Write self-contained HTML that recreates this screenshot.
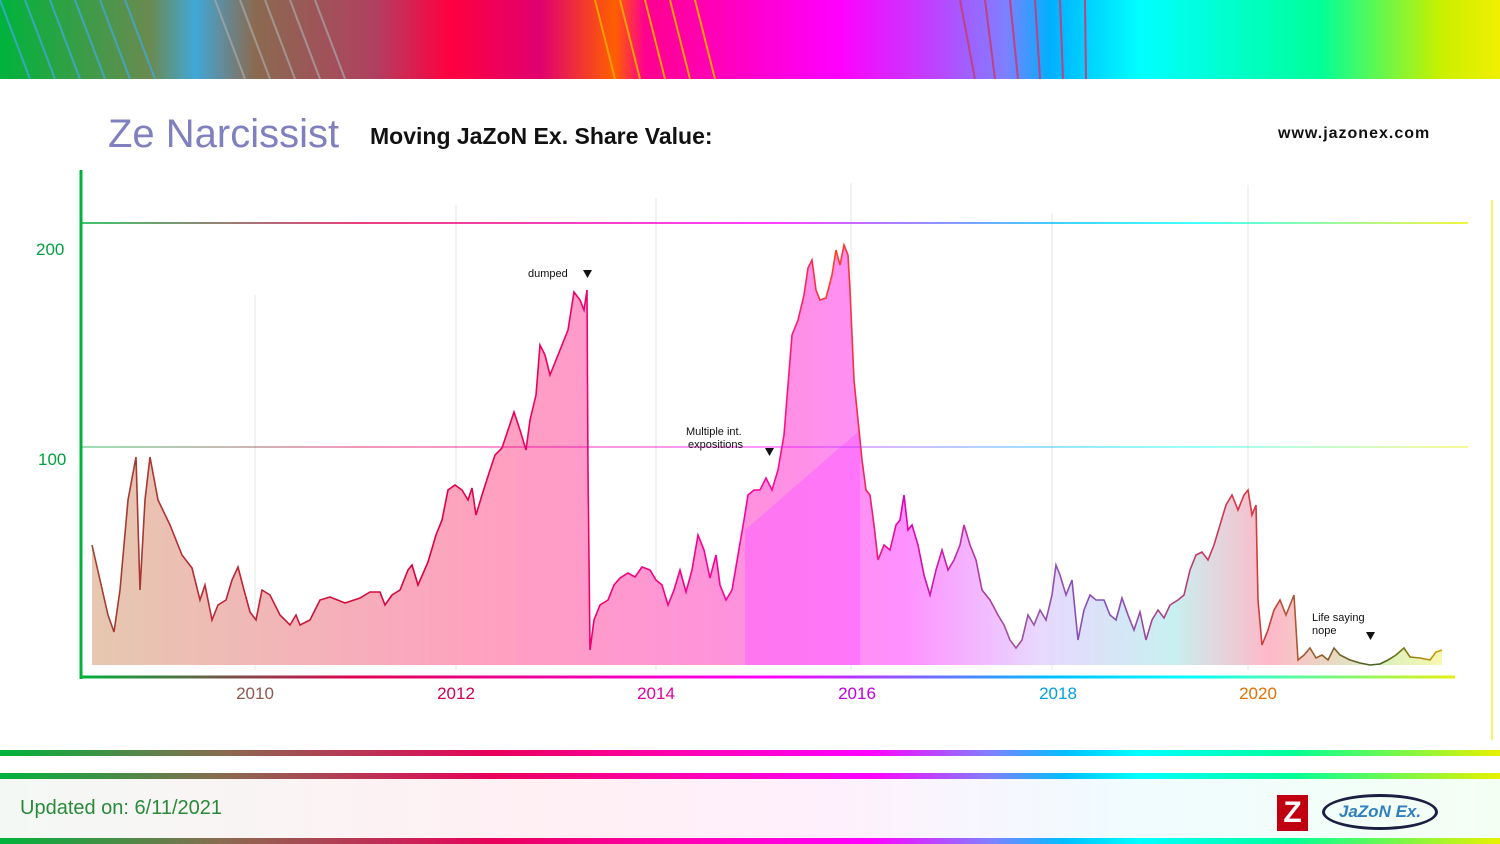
<!DOCTYPE html>
<html><head><meta charset="utf-8"><style>
body{margin:0;width:1500px;height:844px;overflow:hidden;background:#fff;font-family:"Liberation Sans",sans-serif;position:relative}
.g{background:linear-gradient(90deg,#00b33c 0%,#8a6a50 15%,#e8005a 33%,#ff00b0 45%,#ff00ff 58%,#8080ff 66%,#00bfff 71%,#00ffff 76%,#00ff99 86%,#e8f000 100%)}
.abs{position:absolute}
</style></head><body>
<div class="abs" style="left:0;top:0;width:1500px;height:79px;background:linear-gradient(90deg,#00b33c 0%,#6a8a50 10%,#40a8d8 13%,#8a6a50 17%,#b04060 25%,#ff0040 30%,#e00070 36%,#ff6000 41%,#ff0090 43%,#ff00cc 50%,#ff00ff 56%,#c040ff 62%,#7f7fff 67%,#00b0ff 70%,#00ffff 76%,#00ff99 88%,#c8f000 96%,#f0f000 100%)"></div>
<svg class="abs" style="left:0;top:0" width="1500" height="79">
<g stroke="#40a8d8" stroke-width="2" opacity=".8"><line x1="0" y1="0" x2="30" y2="79"/><line x1="25" y1="0" x2="55" y2="79"/><line x1="50" y1="0" x2="80" y2="79"/><line x1="75" y1="0" x2="105" y2="79"/><line x1="100" y1="0" x2="130" y2="79"/><line x1="125" y1="0" x2="155" y2="79"/></g>
<g stroke="#aaa" stroke-width="2" opacity=".7"><line x1="215" y1="0" x2="245" y2="79"/><line x1="240" y1="0" x2="270" y2="79"/><line x1="265" y1="0" x2="295" y2="79"/><line x1="290" y1="0" x2="320" y2="79"/><line x1="315" y1="0" x2="345" y2="79"/></g>
<g stroke="#ffa000" stroke-width="2"><line x1="595" y1="0" x2="615" y2="79"/><line x1="620" y1="0" x2="640" y2="79"/><line x1="645" y1="0" x2="665" y2="79"/><line x1="670" y1="0" x2="690" y2="79"/><line x1="695" y1="0" x2="715" y2="79"/></g>
<g stroke="#c04080" stroke-width="2"><line x1="960" y1="0" x2="975" y2="79"/><line x1="985" y1="0" x2="995" y2="79"/><line x1="1010" y1="0" x2="1018" y2="79"/><line x1="1035" y1="0" x2="1040" y2="79"/><line x1="1060" y1="0" x2="1063" y2="79"/><line x1="1085" y1="0" x2="1086" y2="79"/></g>
</svg>
<div class="abs" style="left:108px;top:112px;font-size:40px;color:#8080c0">Ze Narcissist</div>
<div class="abs" style="left:370px;top:123px;font-size:23px;font-weight:bold;color:#111">Moving JaZoN Ex. Share Value:</div>
<div class="abs" style="left:1278px;top:125px;font-size:16px;font-weight:bold;color:#111;letter-spacing:1px">www.jazonex.com</div>
<svg class="abs" style="left:0;top:0" width="1500" height="844">
<defs>
<linearGradient id="fill" gradientUnits="userSpaceOnUse" x1="90" y1="0" x2="1445" y2="0">
<stop offset="0" stop-color="#e6c8b0"/><stop offset="0.3" stop-color="#ffa0c0"/><stop offset="0.5" stop-color="#ff90e0"/><stop offset="0.6" stop-color="#ff90ff"/><stop offset="0.7" stop-color="#e8d8ff"/><stop offset="0.8" stop-color="#c8f0f0"/><stop offset="0.87" stop-color="#ffb8c8"/><stop offset="0.95" stop-color="#d8f0c0"/><stop offset="1" stop-color="#f8f8b0"/></linearGradient>
<linearGradient id="line" gradientUnits="userSpaceOnUse" x1="90" y1="0" x2="1445" y2="0">
<stop offset="0" stop-color="#a04030"/><stop offset="0.25" stop-color="#e00040"/><stop offset="0.5" stop-color="#ff00a0"/><stop offset="0.55" stop-color="#ff4020"/><stop offset="0.6" stop-color="#e000b0"/><stop offset="0.68" stop-color="#a050a0"/><stop offset="0.75" stop-color="#8050c0"/><stop offset="0.85" stop-color="#e03040"/><stop offset="0.9" stop-color="#a06030"/><stop offset="0.95" stop-color="#406020"/><stop offset="1" stop-color="#e0a000"/></linearGradient>
<linearGradient id="ax" gradientUnits="userSpaceOnUse" x1="80" y1="0" x2="1470" y2="0">
<stop offset="0" stop-color="#00b33c"/><stop offset=".2" stop-color="#e00050"/><stop offset=".5" stop-color="#ff00ff"/><stop offset=".7" stop-color="#00bfff"/><stop offset=".8" stop-color="#00ffff"/><stop offset="1" stop-color="#f0f000"/></linearGradient>
</defs>
<g stroke="#e0e8e0" stroke-width="1"><line x1="255" y1="295" x2="255" y2="670"/><line x1="456" y1="205" x2="456" y2="670"/><line x1="656" y1="198" x2="656" y2="670"/><line x1="851" y1="183" x2="851" y2="670"/><line x1="1052" y1="213" x2="1052" y2="670"/><line x1="1248" y1="185" x2="1248" y2="670"/></g>
<polygon fill="url(#fill)" points="92,665 92,545 100,580 108,615 114,632 120,590 128,500 136,457 140,590 145,500 150,457 158,500 170,525 182,555 192,568 200,600 205,585 212,620 218,605 226,600 232,580 238,567 244,590 250,612 256,620 262,590 270,595 280,615 290,625 296,615 300,625 310,620 320,600 330,597 345,603 360,598 370,592 380,592 385,605 392,595 400,590 408,570 412,565 418,585 428,562 436,535 442,520 448,490 455,485 462,490 468,500 472,488 476,515 482,495 490,470 495,455 502,448 508,430 514,412 520,430 526,450 530,420 536,395 540,345 545,355 550,375 556,360 562,345 568,330 574,292 580,300 584,310 587,290 588,470 590,650 594,620 600,605 608,600 614,585 620,578 628,573 635,577 642,567 650,570 656,580 662,585 668,605 674,590 680,570 686,592 692,570 698,535 704,550 710,578 716,555 720,585 726,600 732,590 738,555 744,520 748,495 754,490 760,490 766,478 772,490 778,470 784,435 788,385 792,335 798,320 804,295 808,268 812,260 816,290 820,300 826,298 832,275 836,250 840,265 844,245 848,255 850,290 854,380 858,420 862,460 866,490 870,495 874,525 878,560 884,545 890,550 896,525 900,520 904,495 908,530 912,525 918,545 924,575 930,595 936,570 942,550 948,570 954,560 960,545 964,525 970,545 976,560 982,590 990,600 998,615 1004,625 1010,640 1016,648 1022,640 1028,615 1034,625 1040,610 1046,620 1052,595 1056,565 1060,575 1066,595 1072,580 1078,640 1084,610 1090,595 1096,600 1104,600 1110,615 1116,620 1122,598 1128,615 1134,630 1140,612 1146,640 1152,620 1158,610 1164,618 1170,605 1178,600 1184,595 1190,570 1196,555 1202,552 1208,560 1214,545 1220,525 1226,505 1232,495 1238,510 1244,495 1248,490 1252,515 1256,505 1258,600 1262,645 1268,630 1274,610 1280,600 1286,615 1290,605 1294,595 1298,660 1304,655 1310,648 1316,658 1322,655 1328,660 1334,648 1340,655 1350,660 1360,663 1370,665 1380,664 1388,660 1396,655 1404,648 1410,657 1420,658 1430,660 1436,652 1442,650 1442,665"/>
<polygon fill="#ff60ff" opacity=".55" points="745,530 860,430 860,665 745,665"/>
<polyline fill="none" stroke="url(#line)" stroke-width="1.6" points="92,545 100,580 108,615 114,632 120,590 128,500 136,457 140,590 145,500 150,457 158,500 170,525 182,555 192,568 200,600 205,585 212,620 218,605 226,600 232,580 238,567 244,590 250,612 256,620 262,590 270,595 280,615 290,625 296,615 300,625 310,620 320,600 330,597 345,603 360,598 370,592 380,592 385,605 392,595 400,590 408,570 412,565 418,585 428,562 436,535 442,520 448,490 455,485 462,490 468,500 472,488 476,515 482,495 490,470 495,455 502,448 508,430 514,412 520,430 526,450 530,420 536,395 540,345 545,355 550,375 556,360 562,345 568,330 574,292 580,300 584,310 587,290 588,470 590,650 594,620 600,605 608,600 614,585 620,578 628,573 635,577 642,567 650,570 656,580 662,585 668,605 674,590 680,570 686,592 692,570 698,535 704,550 710,578 716,555 720,585 726,600 732,590 738,555 744,520 748,495 754,490 760,490 766,478 772,490 778,470 784,435 788,385 792,335 798,320 804,295 808,268 812,260 816,290 820,300 826,298 832,275 836,250 840,265 844,245 848,255 850,290 854,380 858,420 862,460 866,490 870,495 874,525 878,560 884,545 890,550 896,525 900,520 904,495 908,530 912,525 918,545 924,575 930,595 936,570 942,550 948,570 954,560 960,545 964,525 970,545 976,560 982,590 990,600 998,615 1004,625 1010,640 1016,648 1022,640 1028,615 1034,625 1040,610 1046,620 1052,595 1056,565 1060,575 1066,595 1072,580 1078,640 1084,610 1090,595 1096,600 1104,600 1110,615 1116,620 1122,598 1128,615 1134,630 1140,612 1146,640 1152,620 1158,610 1164,618 1170,605 1178,600 1184,595 1190,570 1196,555 1202,552 1208,560 1214,545 1220,525 1226,505 1232,495 1238,510 1244,495 1248,490 1252,515 1256,505 1258,600 1262,645 1268,630 1274,610 1280,600 1286,615 1290,605 1294,595 1298,660 1304,655 1310,648 1316,658 1322,655 1328,660 1334,648 1340,655 1350,660 1360,663 1370,665 1380,664 1388,660 1396,655 1404,648 1410,657 1420,658 1430,660 1436,652 1442,650"/>
<line x1="82" y1="223" x2="1468" y2="223" stroke="url(#ax)" stroke-width="1.5"/>
<line x1="82" y1="447" x2="1468" y2="447" stroke="url(#ax)" stroke-width="1" opacity=".8"/>
<line x1="81" y1="170" x2="81" y2="679" stroke="#00b33c" stroke-width="3"/>
<line x1="80" y1="677" x2="1455" y2="677" stroke="url(#ax)" stroke-width="3"/>
<line x1="1492" y1="200" x2="1492" y2="740" stroke="#f0f000" stroke-width="2" opacity=".6"/>
<g font-family="Liberation Sans" font-size="17" fill="#00a040"><text x="36" y="255">200</text><text x="38" y="465">100</text></g>
<g font-family="Liberation Sans" font-size="17" text-anchor="middle"><text x="255" y="699" fill="#8a5a50">2010</text><text x="456" y="699" fill="#d00050">2012</text><text x="656" y="699" fill="#e000a0">2014</text><text x="857" y="699" fill="#c000e0">2016</text><text x="1058" y="699" fill="#00a0e0">2018</text><text x="1258" y="699" fill="#e07000">2020</text></g>
<g font-family="Liberation Sans" font-size="11" fill="#111"><text x="528" y="277">dumped</text><text x="686" y="435">Multiple int.</text><text x="688" y="448">expositions</text><text x="1312" y="621">Life saying</text><text x="1312" y="634">nope</text></g>
<g fill="#111"><polygon points="583,270 592,270 587.5,278"/><polygon points="765,448 774,448 769.5,456"/><polygon points="1366,632 1375,632 1370.5,640"/></g>
</svg>
<div class="abs g" style="left:0;top:750px;width:1500px;height:6px"></div>
<div class="abs g" style="left:0;top:773px;width:1500px;height:6px"></div>
<div class="abs" style="left:0;top:779px;width:1500px;height:59px;background:linear-gradient(90deg,#f4f8f4,#fff0f4 35%,#fff0fc 55%,#f0fcff 75%,#f4fff4)"></div>
<div class="abs g" style="left:0;top:838px;width:1500px;height:6px"></div>
<div class="abs" style="left:20px;top:797px;font-size:20px;color:#2a8a3a">Updated on: 6/11/2021</div>
<div class="abs" style="left:1277px;top:795px;width:31px;height:36px;background:#c00010;color:#fff;font-weight:bold;font-size:30px;line-height:36px;text-align:center">Z</div>
<div class="abs" style="left:1322px;top:794px;width:116px;height:36px;border:3px solid #1a2040;border-radius:50%/50%;box-sizing:border-box;color:#3080c0;font-weight:bold;font-size:17px;line-height:30px;text-align:center;font-style:italic">JaZoN Ex.</div>
</body></html>
